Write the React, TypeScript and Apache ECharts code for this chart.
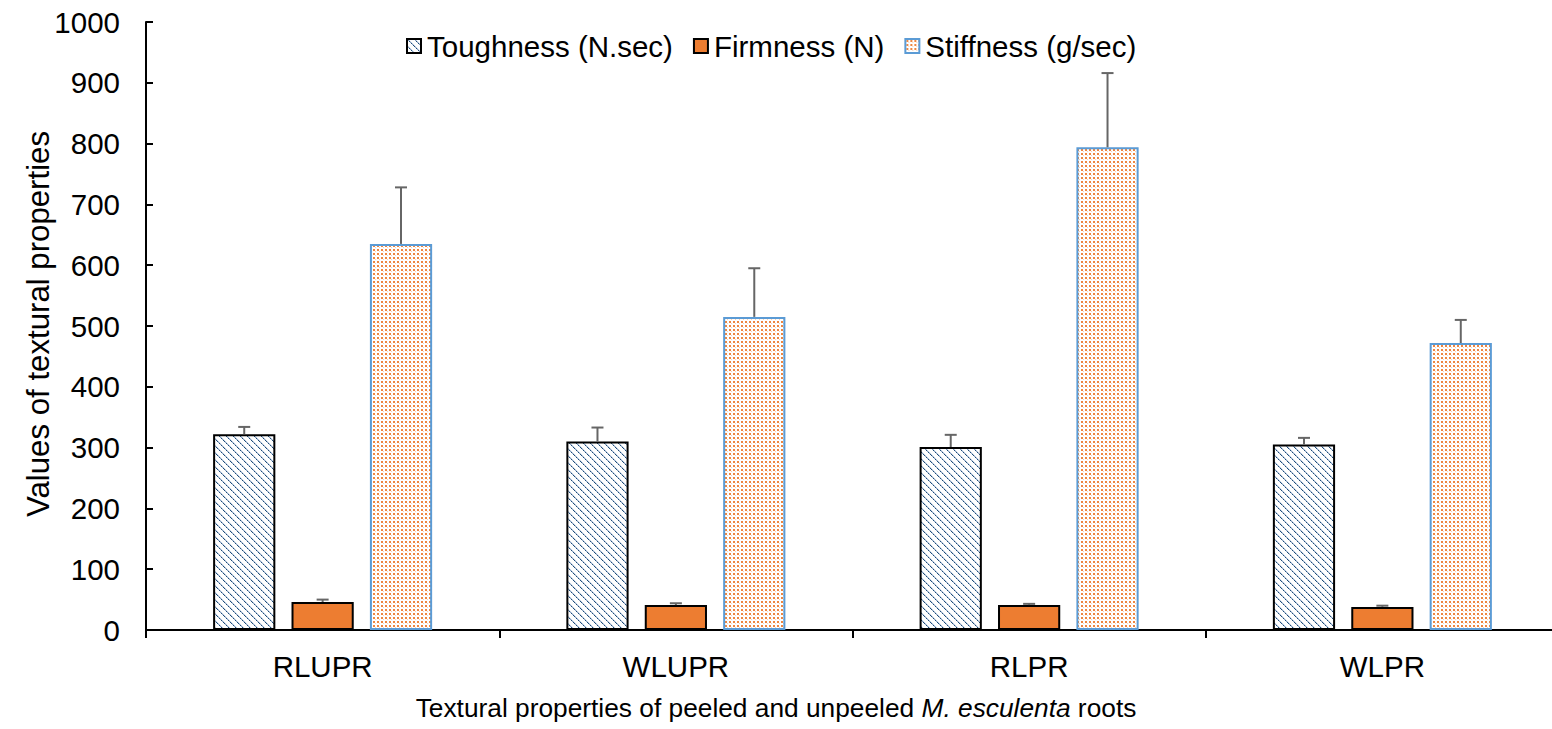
import React, { useEffect, useRef } from "react";
import * as echarts from "echarts";

const categories = ["RLUPR", "WLUPR", "RLPR", "WLPR"];
const seriesNames = ["Toughness (N.sec)", "Firmness (N)", "Stiffness (g/sec)"];
const toughness = [322, 310, 301, 305];
const firmness = [46, 41, 41, 38];
const stiffness = [635, 515, 794, 472];
const toughnessErr = [12, 23, 20, 11];
const firmnessErr = [4, 3, 2, 2];
const stiffnessErr = [93, 80, 122, 38];
const yTicks = { min: 0, max: 1000, interval: 100 };

const FONT = "'Liberation Sans', Arial, sans-serif";

// Diagonal dashed hatch (navy on white)
function makeHatch(): HTMLCanvasElement {
  const s = 7;
  const c = document.createElement("canvas");
  c.width = s;
  c.height = s;
  const ctx = c.getContext("2d")!;
  ctx.fillStyle = "#ffffff";
  ctx.fillRect(0, 0, s, s);
  for (let i = 0; i < s; i++) {
    ctx.fillStyle = i % 2 === 0 ? "#1F4E79" : "#7F9BBE";
    ctx.fillRect(i, i, 1, 1);
    ctx.fillStyle = "#C3D0E2";
    ctx.fillRect((i + 1) % s, i, 1, 1);
  }
  return c;
}

// Small orange dots on white
function makeDots(): HTMLCanvasElement {
  const s = 4;
  const c = document.createElement("canvas");
  c.width = s;
  c.height = s;
  const ctx = c.getContext("2d")!;
  ctx.fillStyle = "#ffffff";
  ctx.fillRect(0, 0, s, s);
  ctx.fillStyle = "#EE8640";
  ctx.fillRect(1, 1, 2, 2);
  ctx.fillStyle = "#F9D2B6";
  ctx.fillRect(3, 3, 1, 1);
  return c;
}

const BAR_CAT_GAP = 0.38;
const BAR_GAP = 0.26;

// The plot runs slightly past the right edge of the visible area.
const VIEW_W = 1552;
const VIEW_H = 729;
const CHART_W = 1562;

export default function App() {
  const ref = useRef<HTMLDivElement>(null);

  useEffect(() => {
    if (!ref.current) return;
    const chart = echarts.init(ref.current, undefined, { renderer: "svg" });

    const values = [toughness, firmness, stiffness];
    const errs = [toughnessErr, firmnessErr, stiffnessErr];
    const errData: number[][] = [];
    values.forEach((vals, s) =>
      vals.forEach((v, i) => errData.push([i, v, errs[s][i], s]))
    );

    const hatch = makeHatch();
    const dots = makeDots();

    const barStyles = [
      { color: { image: hatch, repeat: "repeat" }, borderColor: "#000000", borderWidth: 2 },
      { color: "#ED7D31", borderColor: "#000000", borderWidth: 2 },
      { color: { image: dots, repeat: "repeat" }, borderColor: "#5B9BD5", borderWidth: 2 },
    ];

    chart.setOption({
      animation: false,
      backgroundColor: "#ffffff",
      textStyle: { fontFamily: FONT },
      legend: {
        data: seriesNames,
        left: 406,
        top: 31,
        padding: 0,
        itemWidth: 14,
        itemHeight: 14,
        itemGap: 20,
        icon: "rect",
        textStyle: { fontSize: 29.5, color: "#000000", fontFamily: FONT, padding: [0, 0, 0, 1] },
      },
      grid: { left: 146, top: 22, width: 1413, height: 608, containLabel: false },
      xAxis: {
        type: "category",
        data: categories,
        axisLine: { lineStyle: { color: "#000000", width: 2 } },
        axisTick: { show: true, length: 8, lineStyle: { color: "#000000", width: 2 } },
        axisLabel: { fontSize: 29.5, color: "#000000", margin: 21, fontFamily: FONT },
        splitLine: { show: false },
      },
      yAxis: {
        type: "value",
        min: yTicks.min,
        max: yTicks.max,
        interval: yTicks.interval,
        axisLine: { show: true, lineStyle: { color: "#000000", width: 2 } },
        axisTick: { show: true, inside: true, length: 7, lineStyle: { color: "#000000", width: 2 } },
        axisLabel: {
          fontSize: 29.5,
          color: "#000000",
          margin: 26,
          fontFamily: FONT,
          formatter: (v: number) => String(v),
        },
        splitLine: { show: false },
      },
      graphic: [
        {
          type: "text",
          x: 38,
          y: 324,
          rotation: Math.PI / 2,
          style: {
            text: "Values of textural properties",
            fontSize: 31.2,
            fontFamily: FONT,
            fill: "#000000",
            align: "center",
            verticalAlign: "middle",
          },
        },
        {
          type: "text",
          x: VIEW_W / 2,
          y: 708,
          style: {
            text: "{a|Textural properties of peeled and unpeeled }{b|M. esculenta}{a| roots}",
            align: "center",
            verticalAlign: "middle",
            rich: {
              a: { fontSize: 26.3, fontFamily: FONT, fill: "#000000" },
              b: { fontSize: 26.3, fontFamily: FONT, fill: "#000000", fontStyle: "italic" },
            },
          },
        },
      ],
      series: [
        ...values.map((vals, s) => ({
          name: seriesNames[s],
          type: "bar",
          data: vals,
          barCategoryGap: `${BAR_CAT_GAP * 100}%`,
          barGap: `${BAR_GAP * 100}%`,
          itemStyle: barStyles[s],
          emphasis: { disabled: true },
          z: 2,
        })),
        {
          type: "custom",
          name: "err",
          data: errData,
          encode: { x: 0, y: 1 },
          z: 5,
          silent: true,
          renderItem: (_params: any, api: any) => {
            const idx = api.value(0);
            const val = api.value(1);
            const err = api.value(2);
            const s = api.value(3);
            const catW = api.size([1, 0])[0];
            const w = (catW * (1 - BAR_CAT_GAP)) / (3 + 2 * BAR_GAP);
            const offset = (s - 1) * w * (1 + BAR_GAP);
            const base = api.coord([idx, val]);
            const top = api.coord([idx, val + err]);
            const x = base[0] + offset;
            const style = { stroke: "#666666", lineWidth: 2 };
            return {
              type: "group",
              children: [
                { type: "line", shape: { x1: x, y1: base[1], x2: x, y2: top[1] }, style },
                { type: "line", shape: { x1: x - 6, y1: top[1], x2: x + 6, y2: top[1] }, style },
              ],
            };
          },
        },
      ],
    });

    return () => chart.dispose();
  }, []);

  return (
    <div
      style={{
        position: "absolute",
        left: 0,
        top: 0,
        width: VIEW_W,
        height: VIEW_H,
        overflow: "hidden",
        background: "#ffffff",
      }}
    >
      <div ref={ref} style={{ width: CHART_W, height: VIEW_H }} />
    </div>
  );
}
